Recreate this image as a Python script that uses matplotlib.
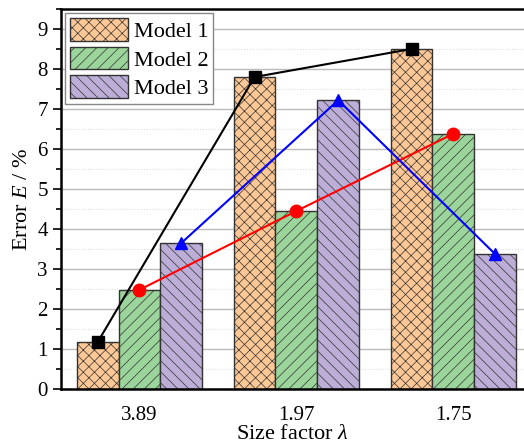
import numpy as np
import matplotlib
matplotlib.use('Agg')
import matplotlib.pyplot as plt
from matplotlib.ticker import MultipleLocator

# Data
groups = ['3.89', '1.97', '1.75']
labels = ['Model 1', 'Model 2', 'Model 3']
model1 = [1.17, 7.80, 8.50]
model2 = [2.48, 4.45, 6.38]
model3 = [3.65, 7.22, 3.37]

colors = ['#fdc895', '#9bd59b', '#bcaed7']
hatches = ['xxx', '///', '\\\\\\']
line_colors = ['black', 'red', 'blue']
markers = ['s', 'o', '^']

plt.rcParams['font.family'] = 'Liberation Serif'
plt.rcParams['mathtext.fontset'] = 'custom'
plt.rcParams['mathtext.it'] = 'Liberation Serif:italic'
plt.rcParams['mathtext.rm'] = 'Liberation Serif'
plt.rcParams['hatch.linewidth'] = 0.5
plt.rcParams['hatch.color'] = '#333333'

fig = plt.figure(figsize=(5.24, 4.45), dpi=100)
ax = fig.add_axes([0.1164, 0.1258, 0.8836, 0.854])

x = np.arange(len(groups))
w = 0.8 / 3
series = [model1, model2, model3]
for i, vals in enumerate(series):
    xs = x + (i - 1) * w
    ax.bar(xs, vals, w, color=colors[i], hatch=hatches[i], edgecolor='#333333',
           linewidth=1.0, label=labels[i], zorder=2)
for i, vals in enumerate(series):
    xs = x + (i - 1) * w
    ax.plot(xs, vals, color=line_colors[i], marker=markers[i], lw=1.5,
            markersize=9 if i else 8, zorder=4, clip_on=False)

ax.set_xlim(-0.5, 2.45)
ax.set_ylim(0, 9.5)
ax.set_xticks(x)
ax.set_xticklabels(groups)
ax.yaxis.set_major_locator(MultipleLocator(1))
ax.yaxis.set_minor_locator(MultipleLocator(0.5))
ax.tick_params(axis='x', length=0, labelsize=15, pad=12)
ax.tick_params(axis='y', which='major', length=6, width=1.2, labelsize=15)
ax.tick_params(axis='y', which='minor', length=3.5, width=1.2)
ax.grid(axis='y', which='major', color='#bbbbbb', lw=1.0, zorder=0)
ax.grid(axis='y', which='minor', color='#dddddd', lw=0.8, ls=':', zorder=0)
ax.set_axisbelow(True)

for s in ['left', 'bottom', 'top']:
    ax.spines[s].set_linewidth(1.8)
ax.spines['right'].set_visible(False)

ax.set_xlabel(r'Size factor $\lambda$', fontsize=16, labelpad=0)
ax.set_ylabel(r'Error $E$ / %', fontsize=16, labelpad=4)

leg = ax.legend(loc='upper left', fontsize=16, handlelength=2.6, handleheight=1.2,
                borderaxespad=0.2, borderpad=0.2, labelspacing=0.22,
                handletextpad=0.3, fancybox=False, edgecolor='#888888', framealpha=1)

fig.savefig('out.png', dpi=100)
